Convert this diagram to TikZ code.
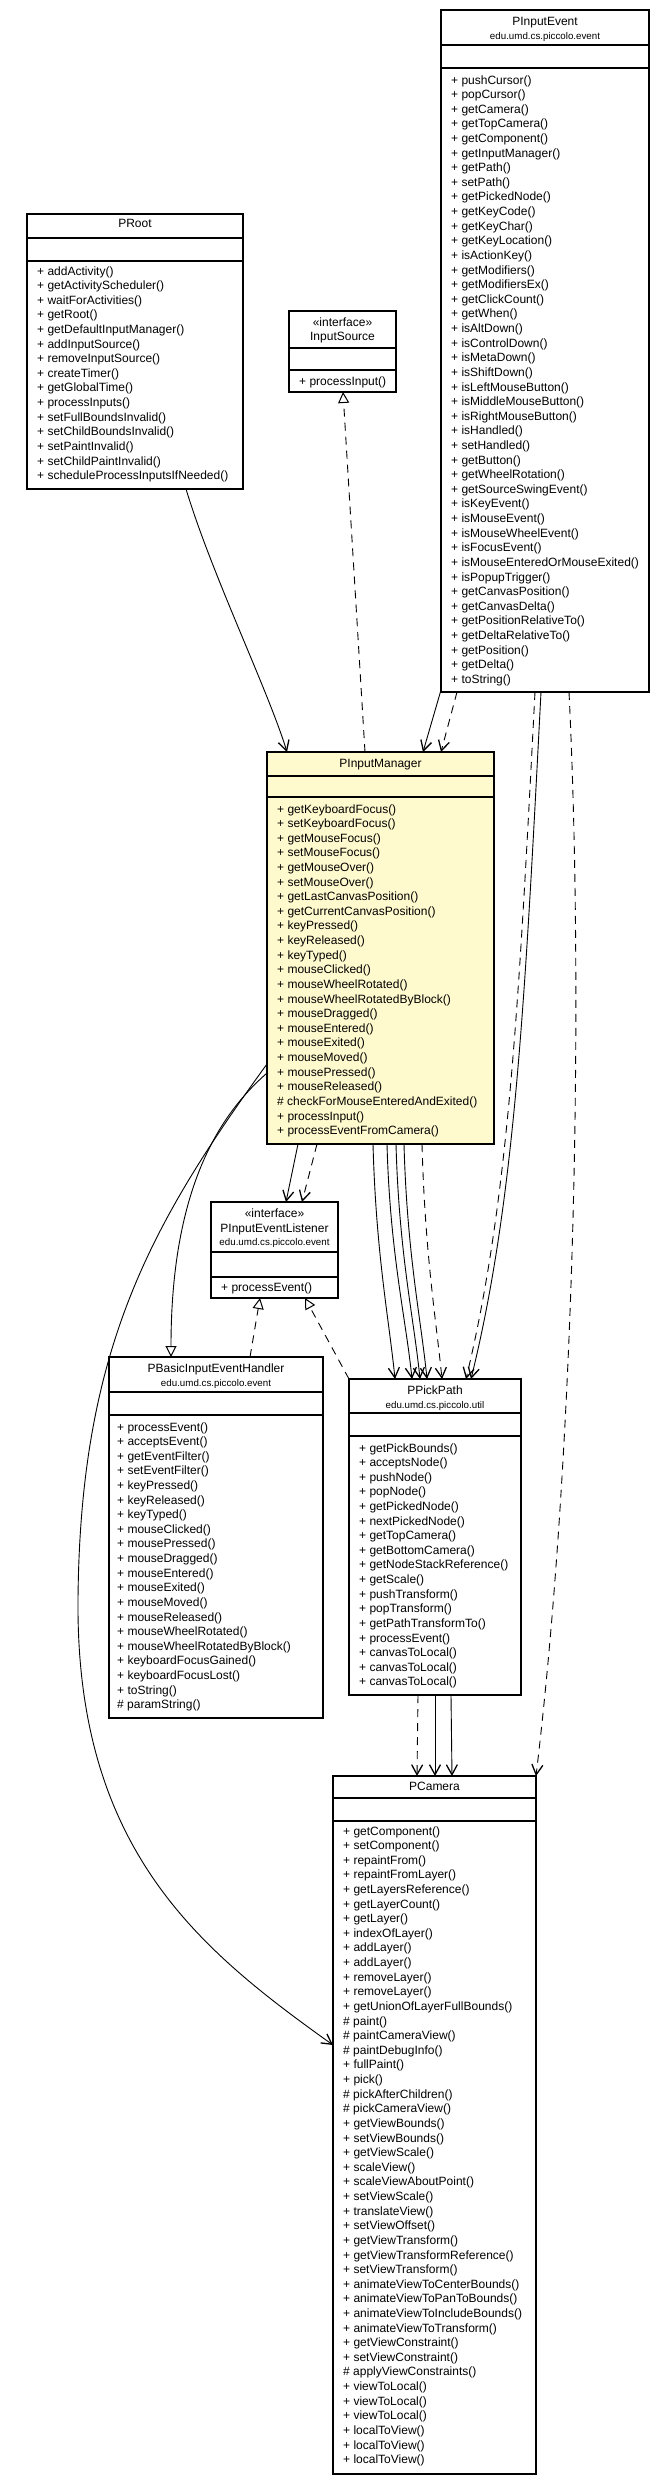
\documentclass[tikz,border=0pt]{standalone}
\usepackage{fontspec}
\setmainfont{Liberation Sans}
\usetikzlibrary{arrows.meta,calc}
\definecolor{pimfill}{RGB}{255,250,205}
\newcommand{\umlbox}[8]{%
  \node[classbox, fill=#8, minimum width=#4pt, minimum height=#5pt] (#1) at (#2,#3) {};
  \draw[sepline] ($(#1.north west)+(0,#6)$) -- ($(#1.north east)+(0,#6)$);
  \draw[sepline] ($(#1.north west)+(0,#7)$) -- ($(#1.north east)+(0,#7)$);
}
\newcommand{\umlmethods}[5]{%
  \foreach \mm [count=\ii from 0] in {#5} {
    \node[mtext] (#1-m\ii) at (#2,{#3+\ii*#4}) {\mm};
  }
}
\begin{document}
\begin{tikzpicture}[x=1pt,y=-1pt,
  classbox/.style={draw, line width=1.2pt, outer sep=0pt, inner sep=0pt, anchor=north west},
  sepline/.style={line width=1.6pt},
  mtext/.style={inner sep=0pt, anchor=base west, font=\fontsize{12}{14.6}\selectfont},
  ttext/.style={inner sep=0pt, anchor=base, font=\fontsize{12}{14.6}\selectfont},
  ptext/.style={inner sep=0pt, anchor=base, font=\fontsize{9.75}{11}\selectfont},
  assoc/.style={line width=0.9pt, -{Straight Barb[length=10pt,width=11pt,line width=1.3pt]}},
  dep/.style={assoc, dash pattern=on 8pt off 6pt},
  real/.style={line width=0.9pt, dash pattern=on 8pt off 6pt, -{Triangle[open,length=11pt,width=11pt,line width=1pt]}},
  gen/.style={line width=0.9pt, -{Triangle[open,length=11pt,width=11pt,line width=1pt]}}
]
\fill[white] (0,0) rectangle (665,2485);
\useasboundingbox (0,0) rectangle (665,2485);

% ---------- PRoot
\umlbox{proot}{27}{214}{216}{275}{24}{47}{white}
\node[ttext] (proot-t) at ($(proot.north)+(0,13)$) {PRoot};
\umlmethods{proot}{37}{275}{14.62}{+ addActivity(),+ getActivityScheduler(),+ waitForActivities(),+ getRoot(),+ getDefaultInputManager(),+ addInputSource(),+ removeInputSource(),+ createTimer(),+ getGlobalTime(),+ processInputs(),+ setFullBoundsInvalid(),+ setChildBoundsInvalid(),+ setPaintInvalid(),+ setChildPaintInvalid(),+ scheduleProcessInputsIfNeeded()}

% ---------- InputSource
\umlbox{isrc}{289}{311}{107}{81}{37}{59}{white}
\node[ttext] (isrc-s) at ($(isrc.north)+(0,15)$) {«interface»};
\node[ttext] (isrc-t) at ($(isrc.north)+(0,29)$) {InputSource};
\umlmethods{isrc}{299}{385}{14.62}{+ processInput()}

% ---------- PInputEvent
\umlbox{pie}{441}{10}{208}{682}{35}{58}{white}
\node[ttext] (pie-t) at ($(pie.north)+(0,15)$) {PInputEvent};
\node[ptext] (pie-p) at ($(pie.north)+(0,29.5)$) {edu.umd.cs.piccolo.event};
\umlmethods{pie}{451}{84}{14.62}{+ pushCursor(),+ popCursor(),+ getCamera(),+ getTopCamera(),+ getComponent(),+ getInputManager(),+ getPath(),+ setPath(),+ getPickedNode(),+ getKeyCode(),+ getKeyChar(),+ getKeyLocation(),+ isActionKey(),+ getModifiers(),+ getModifiersEx(),+ getClickCount(),+ getWhen(),+ isAltDown(),+ isControlDown(),+ isMetaDown(),+ isShiftDown(),+ isLeftMouseButton(),+ isMiddleMouseButton(),+ isRightMouseButton(),+ isHandled(),+ setHandled(),+ getButton(),+ getWheelRotation(),+ getSourceSwingEvent(),+ isKeyEvent(),+ isMouseEvent(),+ isMouseWheelEvent(),+ isFocusEvent(),+ isMouseEnteredOrMouseExited(),+ isPopupTrigger(),+ getCanvasPosition(),+ getCanvasDelta(),+ getPositionRelativeTo(),+ getDeltaRelativeTo(),+ getPosition(),+ getDelta(),+ toString()}

% ---------- PInputManager
\umlbox{pim}{267}{752}{227}{392}{24}{45}{pimfill}
\node[ttext] (pim-t) at ($(pim.north)+(0,15.5)$) {PInputManager};
\umlmethods{pim}{277}{813}{14.62}{+ getKeyboardFocus(),+ setKeyboardFocus(),+ getMouseFocus(),+ setMouseFocus(),+ getMouseOver(),+ setMouseOver(),+ getLastCanvasPosition(),+ getCurrentCanvasPosition(),+ keyPressed(),+ keyReleased(),+ keyTyped(),+ mouseClicked(),+ mouseWheelRotated(),+ mouseWheelRotatedByBlock(),+ mouseDragged(),+ mouseEntered(),+ mouseExited(),+ mouseMoved(),+ mousePressed(),+ mouseReleased(),\# checkForMouseEnteredAndExited(),+ processInput(),+ processEventFromCamera()}

% ---------- PInputEventListener
\umlbox{piel}{211}{1202}{127}{96}{50}{75}{white}
\node[ttext] (piel-s) at ($(piel.north)+(0,15)$) {«interface»};
\node[ttext] (piel-t) at ($(piel.north)+(0,30.5)$) {PInputEventListener};
\node[ptext] (piel-p) at ($(piel.north)+(0,43.5)$) {edu.umd.cs.piccolo.event};
\umlmethods{piel}{221}{1291}{14.62}{+ processEvent()}

% ---------- PBasicInputEventHandler
\umlbox{pbasic}{109}{1357}{214}{361}{35}{58}{white}
\node[ttext] (pbasic-t) at ($(pbasic.north)+(0,15.5)$) {PBasicInputEventHandler};
\node[ptext] (pbasic-p) at ($(pbasic.north)+(0,29.5)$) {edu.umd.cs.piccolo.event};
\umlmethods{pbasic}{117}{1431}{14.62}{+ processEvent(),+ acceptsEvent(),+ getEventFilter(),+ setEventFilter(),+ keyPressed(),+ keyReleased(),+ keyTyped(),+ mouseClicked(),+ mousePressed(),+ mouseDragged(),+ mouseEntered(),+ mouseExited(),+ mouseMoved(),+ mouseReleased(),+ mouseWheelRotated(),+ mouseWheelRotatedByBlock(),+ keyboardFocusGained(),+ keyboardFocusLost(),+ toString(),\# paramString()}

% ---------- PPickPath
\umlbox{ppick}{349}{1379}{172}{316}{34}{57}{white}
\node[ttext] (ppick-t) at ($(ppick.north)+(0,15.5)$) {PPickPath};
\node[ptext] (ppick-p) at ($(ppick.north)+(0,29)$) {edu.umd.cs.piccolo.util};
\umlmethods{ppick}{359}{1452}{14.62}{+ getPickBounds(),+ acceptsNode(),+ pushNode(),+ popNode(),+ getPickedNode(),+ nextPickedNode(),+ getTopCamera(),+ getBottomCamera(),+ getNodeStackReference(),+ getScale(),+ pushTransform(),+ popTransform(),+ getPathTransformTo(),+ processEvent(),+ canvasToLocal(),+ canvasToLocal(),+ canvasToLocal()}

% ---------- PCamera
\umlbox{pcam}{333}{1776}{203}{698}{22}{45}{white}
\node[ttext] (pcam-t) at ($(pcam.north)+(0,14.5)$) {PCamera};
\umlmethods{pcam}{343}{1835}{14.62}{+ getComponent(),+ setComponent(),+ repaintFrom(),+ repaintFromLayer(),+ getLayersReference(),+ getLayerCount(),+ getLayer(),+ indexOfLayer(),+ addLayer(),+ addLayer(),+ removeLayer(),+ removeLayer(),+ getUnionOfLayerFullBounds(),\# paint(),\# paintCameraView(),\# paintDebugInfo(),+ fullPaint(),+ pick(),\# pickAfterChildren(),\# pickCameraView(),+ getViewBounds(),+ setViewBounds(),+ getViewScale(),+ scaleView(),+ scaleViewAboutPoint(),+ setViewScale(),+ translateView(),+ setViewOffset(),+ getViewTransform(),+ getViewTransformReference(),+ setViewTransform(),+ animateViewToCenterBounds(),+ animateViewToPanToBounds(),+ animateViewToIncludeBounds(),+ animateViewToTransform(),+ getViewConstraint(),+ setViewConstraint(),\# applyViewConstraints(),+ viewToLocal(),+ viewToLocal(),+ viewToLocal(),+ localToView(),+ localToView(),+ localToView()}

% ---------- connectors
\draw[assoc] ($(proot.south west)+(159,0)$) .. controls (212,575) and (268,690) .. ($(pim.north west)+(20,0)$);
\draw[real] ($(pim.north west)+(98,0)$) -- ($(isrc.south west)+(54,0)$);
\draw[assoc] ($(pie.south west)+(0,-2)$) -- ($(pim.north west)+(156,0)$);
\draw[dep] ($(pie.south west)+(16,0)$) -- ($(pim.north west)+(174,0)$);
\draw[assoc] ($(pie.south west)+(100,0)$) .. controls (525,1000) and (515,1200) .. ($(ppick.north west)+(122,0)$);
\draw[dep] ($(pie.south west)+(94,0)$) .. controls (519,1000) and (509,1200) .. ($(ppick.north west)+(117,0)$);
\draw[dep] ($(pie.south west)+(128,0)$) .. controls (584,1000) and (575,1450) .. (pcam.north east);

\draw[assoc] ($(pim.south west)+(31,0)$) -- ($(piel.north west)+(75,0)$);
\draw[dep] ($(pim.south west)+(50,0)$) -- ($(piel.north west)+(91,0)$);
\draw[assoc] ($(pim.south west)+(106,0)$) .. controls (376,1254) and (389,1319) .. ($(ppick.north west)+(46,0)$);
\draw[assoc] ($(pim.south west)+(120,0)$) .. controls (390,1254) and (406,1319) .. ($(ppick.north west)+(63,0)$);
\draw[assoc] ($(pim.south west)+(129,0)$) .. controls (399,1254) and (414,1319) .. ($(ppick.north west)+(71,0)$);
\draw[assoc] ($(pim.south west)+(137,0)$) .. controls (407,1254) and (421,1319) .. ($(ppick.north west)+(78,0)$);
\draw[dep] ($(pim.south west)+(155,0)$) .. controls (425,1254) and (436,1319) .. ($(ppick.north west)+(93,0)$);

\draw[gen] ($(pim.north west)+(0,321)$) .. controls (225,1110) and (171,1180) .. ($(pbasic.north west)+(62,0)$);
\draw[assoc] ($(pim.north west)+(0,312)$) .. controls (150,1225) and (80,1350) .. (78,1600) .. controls (76,1850) and (200,1950) .. ($(pcam.north west)+(0,269)$);

\draw[real] ($(pbasic.north west)+(141,0)$) -- ($(piel.south west)+(49,0)$);
\draw[real] (ppick.north west) -- ($(piel.south west)+(94,0)$);

\draw[dep] ($(ppick.south west)+(69,0)$) -- ($(pcam.north west)+(84,0)$);
\draw[assoc] ($(ppick.south west)+(86,0)$) -- ($(pcam.north west)+(102,0)$);
\draw[assoc] ($(ppick.south west)+(102,0)$) -- ($(pcam.north west)+(119,0)$);
\end{tikzpicture}
\end{document}
